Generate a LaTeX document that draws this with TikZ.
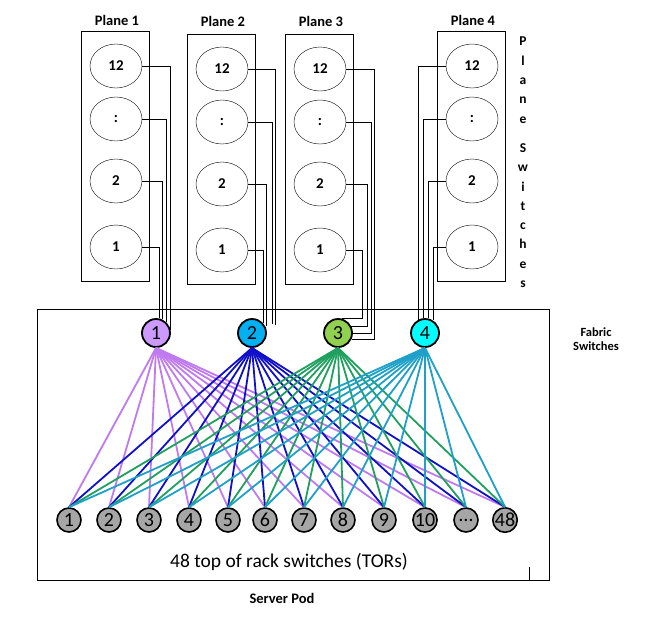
\documentclass[tikz,border=0pt]{standalone}
\usepackage{fontspec}
\setmainfont{Carlito}
\usetikzlibrary{shapes.geometric}

\definecolor{fab1}{HTML}{CC99FF}
\definecolor{fab2}{HTML}{00B0F0}
\definecolor{fab3}{HTML}{92D050}
\definecolor{fab4}{HTML}{00FFFF}
\definecolor{link1}{HTML}{BF7AF0}
\definecolor{link2}{HTML}{1010C8}
\definecolor{link3}{HTML}{1FA05F}
\definecolor{link4}{HTML}{1EA0C8}
\definecolor{torgray}{HTML}{A6A6A6}

\newcommand{\plsw}[4]{\node[ellipse, draw, minimum width=52, minimum height=44, font=\bfseries\fontsize{15}{17}\selectfont] (p#1#2) at (#3) {#4};}
\newcommand{\wire}[2]{\draw[line width=0.8] (#1) -| (#2);}
\newcommand{\wireback}[3]{\draw[line width=0.8] (#1) -| ([xshift=#3]#2) -- (#2);}

\begin{document}
\begin{tikzpicture}[x=1pt, y=-1pt]
  \useasboundingbox (0,0) rectangle (647,619);

  % Planes
  % ------
  \foreach \p/\x/\dy in {1/116/0, 2/222/3, 3/320/3, 4/472/0}{
    \node[draw, line width=0.8, minimum width=68, minimum height=250] (box\p) at (\x-1, 156+\dy) {};
    \node[font=\bfseries\fontsize{14.5}{16}\selectfont] (title\p) at (\x+1, 20+\dy/2) {Plane \p};
    \foreach \k/\lab/\y in {1/1/247, 2/2/181, 3/:/119, 4/12/66}
    \plsw{\p}{\k}{\x, \y+\dy}{\lab};
  }

  \node[font=\bfseries\fontsize{13.5}{19.3}\selectfont, align=center, anchor=north, inner sep=0] (plsw) at (523,37)
  {P\\l\\a\\n\\e\\[10pt]S\\w\\i\\t\\c\\h\\e\\s};

  % Server pod
  % ----------
  \node[draw, line width=0.8, minimum width=512, minimum height=271] (pod) at (293,444.5) {};
  \draw[line width=0.8] ([xshift=-20]pod.south east) -- ++(0,-13);
  \node[font=\fontsize{19.5}{22}\selectfont] (torlbl) at (289,562) {48 top of rack switches (TORs)};
  \node[font=\bfseries\fontsize{14.5}{16}\selectfont] (podlbl) at (282,598) {Server Pod};
  \node[font=\bfseries\fontsize{12.5}{14}\selectfont, align=center] (fablbl) at (596,339) {Fabric\\Switches};

  % Fabric switches
  % ---------------
  \foreach \f/\x in {1/156, 2/252, 3/338, 4/425}
  \node[circle, draw, line width=1.8, minimum size=28, inner sep=0, fill=fab\f,
    font=\fontsize{20}{22}\selectfont] (f\f) at (\x,333) {\f};

  % TORs
  % ----
  \foreach \t/\x/\lab in {1/69/1, 2/109/2, 3/149/3, 4/189/4, 5/228/5, 6/265/6,
    7/304/7, 8/343/8, 9/384/9, 10/425/10, 11/466/\dots, 12/505/48}
  \node[circle, draw, line width=1.6, minimum size=24, inner sep=0, fill=torgray,
    font=\fontsize{20}{22}\selectfont] (t\t) at (\x,520) {\lab};

  \foreach \f in {1, ..., 4}
  \foreach \t in {1, ..., 12}
  \draw[link\f, line width=1.8] (f\f.south) -- (t\t.north);

  % Wiring
  % ======

  % Plane 1
  \wire{p14.east}{f1.10};
  \wire{p13.east}{f1.48};
  \wire{p12.east}{f1.66};
  \wire{p11.east}{f1.78};

  % Plane 2
  \wire{p24.east}{[shift={(23,-8)}]f2.center};
  \wire{p23.east}{[shift={(20,-9)}]f2.center};
  \wire{p22.east}{[shift={(14,-7)}]f2.center};
  \wire{p21.east}{f2.43};

  % Plane 3
  \wireback{p34.east}{f3.-24}{23};
  \wireback{p33.east}{f3.0}{18};
  \wireback{p32.east}{f3.28}{16};
  \wireback{p31.east}{f3.75}{21};

  % Plane 4
  \wire{p44.west}{f4.118};
  \wire{p43.west}{f4.98};
  \wire{p42.west}{f4.78};
  \wire{p41.west}{f4.58};

\end{tikzpicture}
\end{document}
